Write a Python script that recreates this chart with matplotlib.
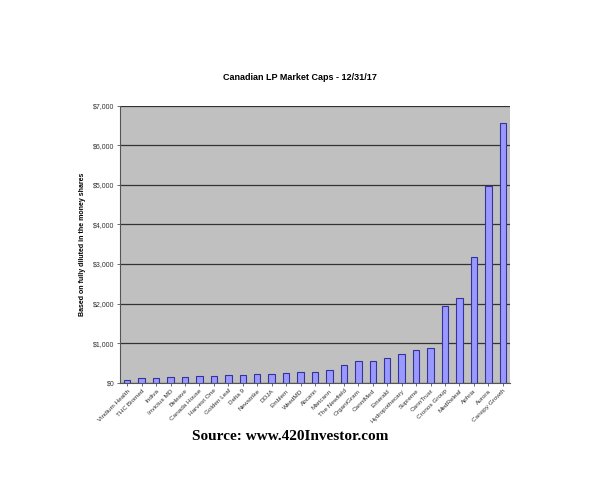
import matplotlib
matplotlib.use("Agg")
import matplotlib.pyplot as plt
import numpy as np

companies = ["Vindium Health", "THC Biomed", "Indiva", "Invictus MD", "Beleave",
             "Canada House", "Harvest One", "Golden Leaf", "Delta 9", "Newstrike",
             "DOJA", "Emblem", "WeedMD", "Abcann", "Maricann", "The Newfield",
             "OrganiGram", "CanniMed", "Emerald", "Hydropothecary", "Supreme",
             "CannTrust", "Cronos Group", "MedReleaf", "Aphria", "Aurora",
             "Canopy Growth"]
market_caps = [70, 110, 110, 140, 140, 170, 180, 190, 200, 230,
               230, 250, 280, 280, 320, 440, 550, 560, 620, 730,
               820, 880, 1930, 2140, 3170, 4980, 6570]
yticks = [0, 1000, 2000, 3000, 4000, 5000, 6000, 7000]

plt.rcParams['font.family'] = ['Liberation Sans', 'DejaVu Sans']

fig = plt.figure(figsize=(6, 5), dpi=100)
ax = fig.add_axes([0.2, 0.2346, 0.65, 0.554])
ax.set_facecolor("#c0c0c0")

x = np.arange(len(companies))
ax.bar(x, market_caps, width=0.45, color="#9999ff", edgecolor="#333399", linewidth=0.8, zorder=3)

ax.set_ylim(0, 7000)
ax.set_xlim(-0.5, len(companies) - 0.5)
ax.set_yticks(yticks)
ax.set_yticklabels(["${:,}".format(v) for v in yticks], fontsize=5, color="#333333")
ax.yaxis.grid(True, color="#333333", linewidth=0.9, zorder=1)
ax.set_xticks(x)
ax.set_xticklabels(companies, rotation=45, ha="right", rotation_mode="anchor", fontsize=4.6, color="#333333")
ax.tick_params(axis="both", length=2, width=0.6, color="#555555", pad=2)
for s in ["top", "right"]:
    ax.spines[s].set_visible(False)
for s in ["left", "bottom"]:
    ax.spines[s].set_color("#555555")
    ax.spines[s].set_linewidth(0.8)

ax.set_ylabel("Based on fully diluted in the money shares", fontsize=5, fontweight="bold", labelpad=5)
fig.text(0.5, 0.845, "Canadian LP Market Caps - 12/31/17", ha="center", va="center",
         fontsize=6.5, fontweight="bold")
fig.text(0.483, 0.128, "Source: www.420Investor.com", ha="center", va="center",
         fontsize=11, fontweight="bold", family=["Liberation Serif", "DejaVu Serif"])

fig.savefig("out.png", dpi=100)
